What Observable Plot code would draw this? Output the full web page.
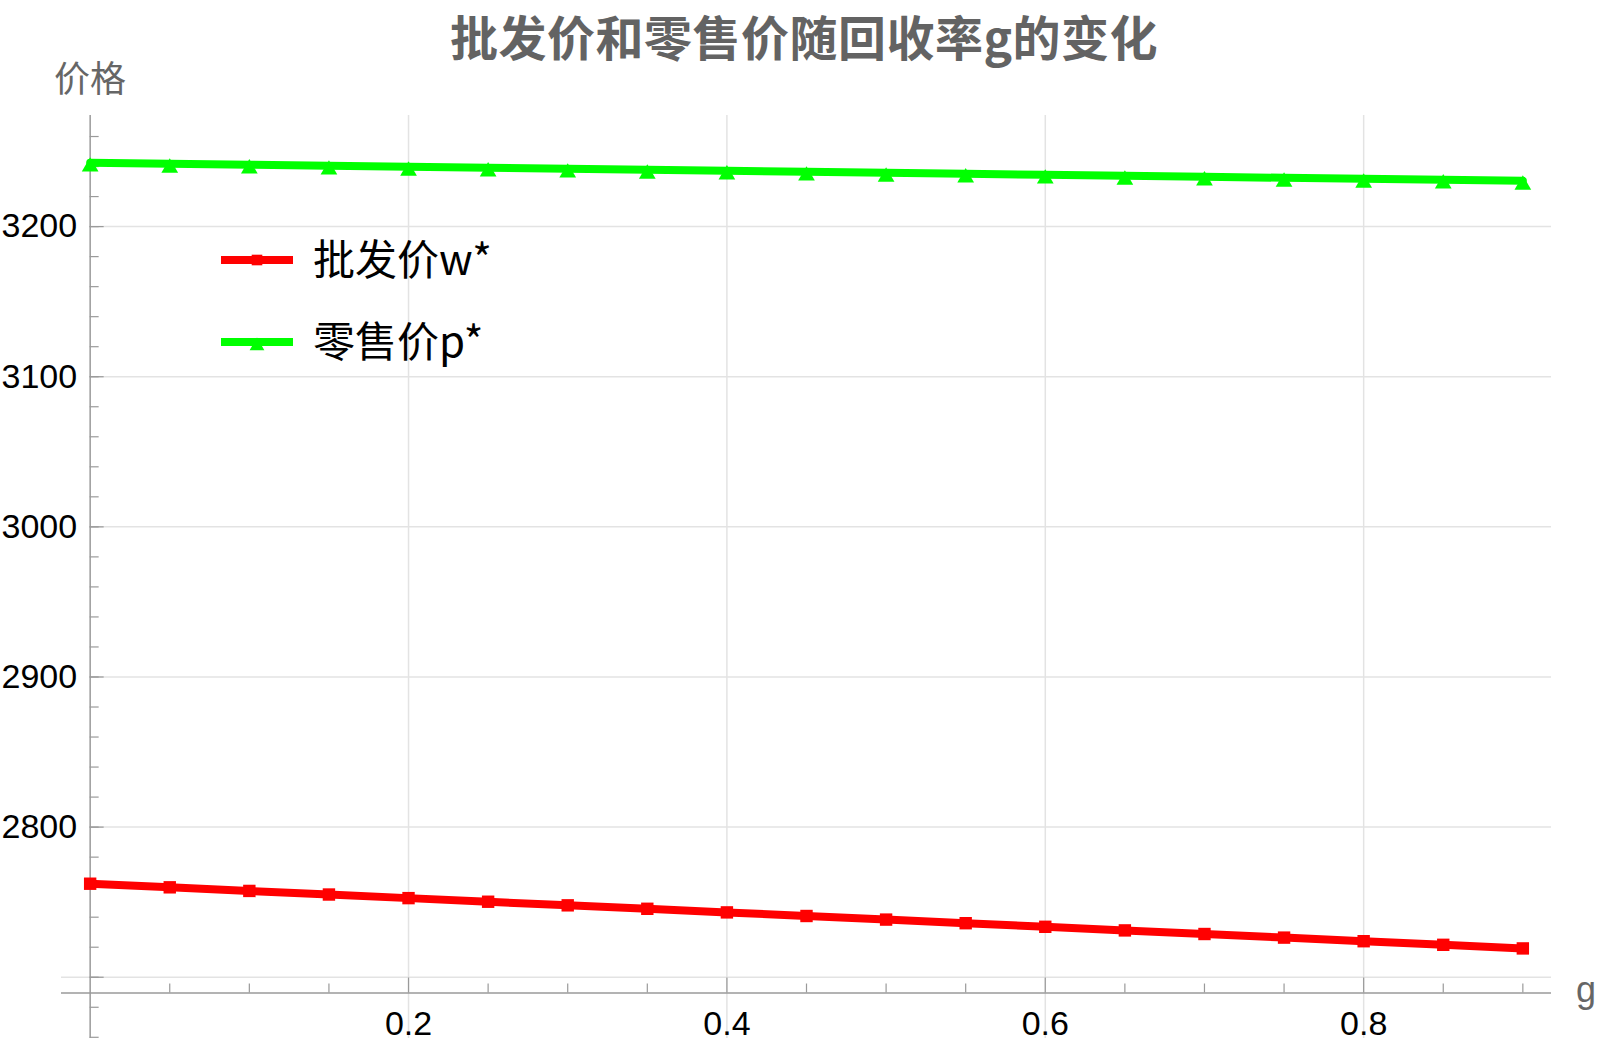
<!DOCTYPE html>
<html><head><meta charset="utf-8">
<script src="https://cdn.jsdelivr.net/npm/d3@7"></script>
<script src="https://cdn.jsdelivr.net/npm/@observablehq/plot@0.6"></script>
<style>
html,body{margin:0;padding:0;background:#fff;}
#wrap{position:relative;width:1600px;height:1045px;overflow:hidden;font-family:"Noto Sans CJK SC","Noto Sans",sans-serif;}
#title{position:absolute;left:0;width:1600px;box-sizing:border-box;padding-left:8px;top:0;line-height:normal;text-align:center;font-weight:bold;font-size:48px;letter-spacing:0.5px;color:#636363;white-space:nowrap;}
#chart{position:absolute;left:0;top:60px;}
.lab{position:absolute;color:#666;font-size:36px;line-height:1;white-space:nowrap;}
#legend{position:absolute;left:0;top:0;}
</style></head>
<body><div id="wrap">
<div id="title"></div>
<div id="chart"></div>
<div class="lab" id="ylab" style="left:54px;top:58px;"></div>
<div class="lab" id="xlab" style="left:1576px;top:972px;font-family:'Liberation Sans',Arial,sans-serif;"></div>
<svg id="legend" width="600" height="420"></svg>
</div>
<script>
// ---- data ----
const titleText = "批发价和零售价随回收率g的变化";
const yLabel = "价格";
const xLabel = "g";
const seriesNames = ["批发价w*", "零售价p*"];
const g = [0, 0.05, 0.1, 0.15, 0.2, 0.25, 0.3, 0.35, 0.4, 0.45, 0.5, 0.55, 0.6, 0.65, 0.7, 0.75, 0.8, 0.85, 0.9];
const wholesale = [2762.3, 2759.9, 2757.5, 2755.1, 2752.7, 2750.3, 2747.9, 2745.6, 2743.2, 2740.8, 2738.4, 2736.0, 2733.6, 2731.2, 2728.8, 2726.4, 2724.0, 2721.6, 2719.2];
const retail = [3242.5, 3241.8, 3241.2, 3240.5, 3239.8, 3239.2, 3238.5, 3237.8, 3237.2, 3236.5, 3235.8, 3235.2, 3234.5, 3233.8, 3233.2, 3232.5, 3231.8, 3231.2, 3230.5];
const yTickLabels = [2800, 2900, 3000, 3100, 3200];
const yGrid = [2700, 2800, 2900, 3000, 3100, 3200];
const yMinor = [2660, 2680, 2700, 2720, 2740, 2760, 2780, 2800, 2820, 2840, 2860, 2880, 2900, 2920, 2940, 2960, 2980, 3000, 3020, 3040, 3060, 3080, 3100, 3120, 3140, 3160, 3180, 3200, 3220, 3240, 3260];
const xTickLabels = [0.2, 0.4, 0.6, 0.8];
const xMinor = [0.05, 0.1, 0.15, 0.25, 0.3, 0.35, 0.45, 0.5, 0.55, 0.65, 0.7, 0.75, 0.85, 0.9];
const xDomain = [-0.018, 0.918];
const yDomain = [2659.2, 3274];
const xAxisAt = 2689.5;

// ---- styles ----
const colors = ["#ff0000", "#00ff00"];
const axisColor = "#9a9a9a";
const gridColor = "#e3e3e3";
const sqR = 7, triR = 6.2, lineW = 8;

const rows = g.map((v, i) => ({g: v, w: wholesale[i], p: retail[i]}));

document.getElementById("title").textContent = titleText;
document.getElementById("ylab").textContent = yLabel;
document.getElementById("xlab").textContent = xLabel;

const chart = Plot.plot({
  width: 1600, height: 985,
  marginLeft: 61, marginRight: 49, marginTop: 55, marginBottom: 7,
  x: {domain: xDomain, axis: null},
  y: {domain: yDomain, axis: null},
  style: {fontFamily: '"Liberation Sans", Arial, sans-serif', background: "transparent"},
  marks: [
    Plot.ruleX(xTickLabels, {x: d => d, stroke: gridColor, strokeWidth: 1.5}),
    Plot.ruleY(yGrid, {y: d => d, x1: d => d === 2700 ? xDomain[0] : 0, x2: () => xDomain[1], stroke: gridColor, strokeWidth: 1.5}),
    Plot.ruleY([xAxisAt], {y: d => d, stroke: axisColor, strokeWidth: 1.5}),
    Plot.ruleX([0], {x: d => d, stroke: axisColor, strokeWidth: 1.5}),
    Plot.ruleY(yMinor, {y: d => d, x1: () => 0, x2: () => 0, insetRight: -9, stroke: axisColor, strokeWidth: 1.2}),
    Plot.ruleY(yGrid, {y: d => d, x1: () => 0, x2: () => 0, insetRight: -14, stroke: axisColor, strokeWidth: 1.2}),
    Plot.ruleX(xMinor, {x: d => d, y1: () => xAxisAt, y2: () => xAxisAt, insetTop: -9, stroke: axisColor, strokeWidth: 1.2}),
    Plot.ruleX(xTickLabels, {x: d => d, y1: () => xAxisAt, y2: () => xAxisAt, insetTop: -15, stroke: axisColor, strokeWidth: 1.2}),
    Plot.text(yTickLabels, {x: () => 0, y: d => d, text: d => String(d), textAnchor: "end", dx: -13, fontSize: 34, fill: "#000"}),
    Plot.text(xTickLabels, {x: d => d, y: () => xAxisAt, text: d => String(d), dy: 31, fontSize: 34, fill: "#000"}),
    Plot.line(rows, {x: "g", y: "w", stroke: colors[0], strokeWidth: lineW}),
    Plot.dot(rows, {x: "g", y: "w", symbol: "square", r: sqR, fill: colors[0], stroke: null}),
    Plot.line(rows, {x: "g", y: "p", stroke: colors[1], strokeWidth: lineW}),
    Plot.dot(rows, {x: "g", y: "p", symbol: "triangle", r: triR, fill: colors[1], stroke: null, dy: 4})
  ]
});
document.getElementById("chart").appendChild(chart);

// ---- legend (overlay) ----
const leg = d3.select("#legend");
const symbols = [d3.symbolSquare, d3.symbolTriangle];
seriesNames.forEach((name, i) => {
  const cy = 260 + i * 82;
  const gg = leg.append("g");
  gg.append("line").attr("x1", 221).attr("x2", 293).attr("y1", cy).attr("y2", cy)
    .attr("stroke", colors[i]).attr("stroke-width", lineW);
  gg.append("path").attr("d", d3.symbol(symbols[i], i === 0 ? Math.PI * 36 : Math.PI * 30)())
    .attr("transform", `translate(257,${cy + (i === 0 ? 0 : 4)})`).attr("fill", colors[i]);
  gg.append("text").attr("x", 313).attr("y", cy).attr("dy", "0.36em")
    .attr("font-size", 42).attr("fill", "#000")
    .attr("font-family", '"Noto Sans CJK SC", sans-serif').text(name);
});
</script>
</body></html>
